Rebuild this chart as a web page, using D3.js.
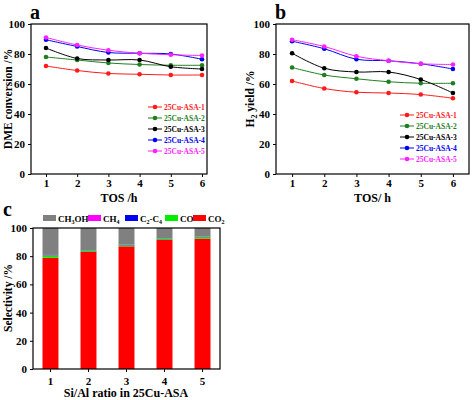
<!DOCTYPE html><html><head><script src="https://cdn.jsdelivr.net/npm/d3@7"></script>
<style>body{margin:0;background:#fff}text{font-family:"Liberation Serif",serif;font-weight:bold}</style></head><body>
<svg id="c" width="474" height="400"></svg>
<script>
const tos=[1,2,3,4,5,6];
const seriesNames=["25Cu-ASA-1","25Cu-ASA-2","25Cu-ASA-3","25Cu-ASA-4","25Cu-ASA-5"];
const colors=["#ff1a1a","#1f7f1f","#000000","#0000ee","#ff22ff"];
const dme=[[72,69,67,66.5,66,66],[78,76,74,73,72.5,72.5],[84,77,76,76,71.5,70],[89.5,85,81,80.5,80,76.5],[91,86,82.5,80.5,79.5,79]];
const h2=[[62,57,54.5,54,53,50.5],[71,66,63.5,61.5,60.5,60.5],[80.5,70.5,68,68,63,54],[88.5,83.5,76.5,75.5,73.5,70],[89.5,85,78.5,75.5,73.5,73]];
const ratios=["1","2","3","4","5"];
const co2=[79,83,87,91.5,92.5];
const co=[1.5,0.8,0.7,0.7,1];
const c2c4=[0.2,0.2,0.2,0.2,0.2];
const ch4=[0.2,0.2,0.2,0.2,0.2];
const ch3oh=co2.map((v,i)=>100-v-co[i]-c2c4[i]-ch4[i]);
const yTicks=[0,20,40,60,80,100];
const svg=d3.select("#c");

function linePanel(data,x0,x1,xd0,xd1,letter,xlab,legTop,legX){
  const x=d3.scaleLinear().domain([xd0,xd1]).range([x0,x1]);
  const y=d3.scaleLinear().domain([0,100]).range([174,24]);
  const g=svg.append("g");
  g.append("rect").attr("x",x0).attr("y",24).attr("width",x1-x0).attr("height",150).attr("fill","none").attr("stroke","#000").attr("stroke-width",1.2);
  g.append("g").attr("transform","translate(0,174)").call(d3.axisBottom(x).tickValues(tos).tickSize(3).tickFormat(d3.format("d"))).call(a=>{a.select(".domain").remove();a.selectAll("text").attr("font-size",11).attr("dy","0.6em")});
  g.append("g").attr("transform",`translate(${x0},0)`).call(d3.axisLeft(y).tickValues(yTicks).tickSize(3)).call(a=>{a.select(".domain").remove();a.selectAll("text").attr("font-size",11)});
  data.forEach((s,i)=>{
    g.append("path").attr("d",d3.line().x((d,j)=>x(tos[j])).y(d=>y(d)).curve(d3.curveCatmullRom)(s)).attr("fill","none").attr("stroke",colors[i]).attr("stroke-width",1);
    g.selectAll(null).data(s).join("circle").attr("cx",(d,j)=>x(tos[j])).attr("cy",d=>y(d)).attr("r",2.3).attr("fill",colors[i]);
    const ly=legTop+i*11;
    g.append("line").attr("x1",legX).attr("x2",legX+14).attr("y1",ly).attr("y2",ly).attr("stroke",colors[i]);
    g.append("circle").attr("cx",legX+7).attr("cy",ly).attr("r",2.3).attr("fill",colors[i]);
    g.append("text").attr("x",legX+16).attr("y",ly+3).attr("font-size",7.5).attr("fill",colors[i]).text(seriesNames[i]);
  });
  g.append("text").attr("x",x0-1).attr("y",19).attr("font-size",20).text(letter);
  g.append("text").attr("x",(x0+x1)/2).attr("y",202).attr("text-anchor","middle").attr("font-size",12).text(xlab);
  return g;
}
const A=linePanel(dme,31,207,0.52,6.16,"a","TOS /h",107,148);
A.append("text").attr("transform","translate(12,99) rotate(-90)").attr("text-anchor","middle").attr("font-size",11.5).text("DME conversion /%");
const B=linePanel(h2,276,469,0.5,6.5,"b","TOS/ h",115,400);
const bl=B.append("text").attr("transform","translate(254,99) rotate(-90)").attr("text-anchor","middle").attr("font-size",11.5);
bl.append("tspan").text("H");bl.append("tspan").attr("font-size",8).attr("dy",3).text("2");bl.append("tspan").attr("dy",-3).text(" yield /%");

// panel c
const xc=d3.scaleBand().domain(ratios).range([33,220]).paddingInner(0.58).paddingOuter(0.25);
const yc=d3.scaleLinear().domain([0,100]).range([369,228]);
const gc=svg.append("g");
const keys=["co2","co","c2c4","ch4","ch3oh"];
const vals={co2,co,c2c4,ch4,ch3oh};
const cc={co2:"#ff0000",co:"#00ee00",c2c4:"#0000ee",ch4:"#ff00ff",ch3oh:"#808080"};
const rows=ratios.map((r,i)=>{const o={r};keys.forEach(k=>o[k]=vals[k][i]);return o;});
const stack=d3.stack().keys(keys)(rows);
stack.forEach(layer=>{
  gc.selectAll(null).data(layer).join("rect").attr("x",d=>xc(d.data.r)).attr("width",xc.bandwidth()).attr("y",d=>yc(d[1])).attr("height",d=>yc(d[0])-yc(d[1])).attr("fill",cc[layer.key]);
});
gc.append("rect").attr("x",33).attr("y",228).attr("width",187).attr("height",141).attr("fill","none").attr("stroke","#000").attr("stroke-width",1.2);
gc.append("g").attr("transform","translate(0,369)").call(d3.axisBottom(xc).tickSize(3)).call(a=>{a.select(".domain").remove();a.selectAll("text").attr("font-size",11).attr("dy","0.9em")});
gc.append("g").attr("transform","translate(33,0)").call(d3.axisLeft(yc).tickValues(yTicks).tickSize(3)).call(a=>{a.select(".domain").remove();a.selectAll("text").attr("font-size",11)});
gc.append("text").attr("x",3).attr("y",216).attr("font-size",20).text("c");
gc.append("text").attr("transform","translate(12,298) rotate(-90)").attr("text-anchor","middle").attr("font-size",11.5).text("Selectivity /%");
gc.append("text").attr("x",126).attr("y",397).attr("text-anchor","middle").attr("font-size",12).text("Si/Al ratio in 25Cu-ASA");
const leg=[["ch3oh","CH","3","OH",43],["ch4","CH","4","",88],["c2c4","C","2","-C",125],["co","CO","","",165],["co2","CO","2","",193]];
leg.forEach(([k,a,s,b,lx])=>{
  gc.append("rect").attr("x",lx).attr("y",215).attr("width",13).attr("height",6).attr("fill",cc[k]);
  const t=gc.append("text").attr("x",lx+15).attr("y",222).attr("font-size",9);
  t.append("tspan").text(a);
  if(s)t.append("tspan").attr("font-size",6).attr("dy",2).text(s);
  if(b){t.append("tspan").attr("dy",s?-2:0).text(b);}
  if(k==="c2c4"){t.append("tspan").attr("font-size",6).attr("dy",2).text("4");}
});
</script></body></html>
